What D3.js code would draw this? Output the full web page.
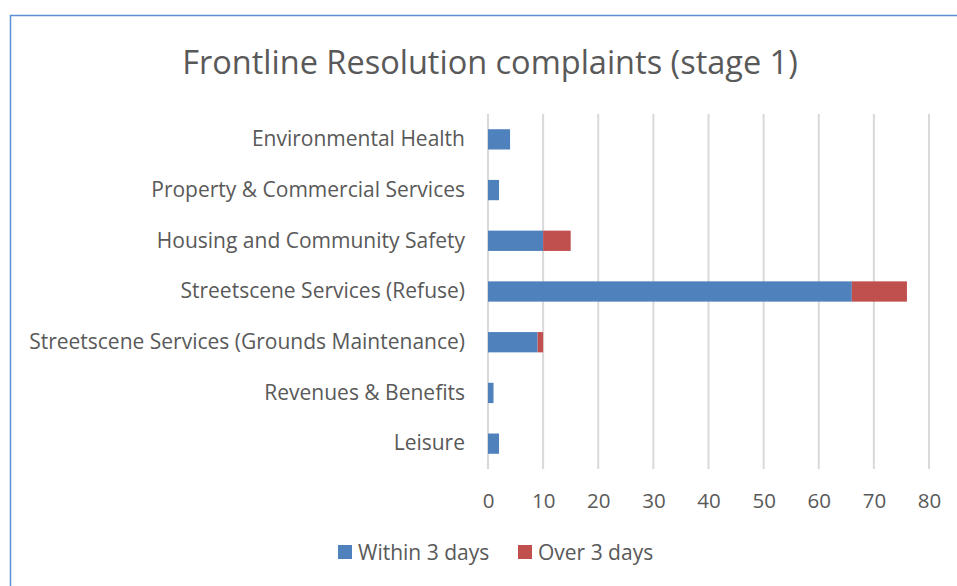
<!DOCTYPE html>
<html>
<head>
<meta charset="utf-8">
<script src="https://cdn.jsdelivr.net/npm/d3@7"></script>
<style>
  body { margin: 0; background: #fff; }
  text { font-family: "Open Sans", "Liberation Sans", sans-serif; fill: #595959; }
</style>
</head>
<body>
<script>
// chart data
var categories = ["Environmental Health", "Property & Commercial Services", "Housing and Community Safety",
  "Streetscene Services (Refuse)", "Streetscene Services (Grounds Maintenance)", "Revenues & Benefits", "Leisure"];
var within3 = [4, 2, 10, 66, 9, 1, 2];
var over3 = [0, 0, 5, 10, 1, 0, 0];
var seriesNames = ["Within 3 days", "Over 3 days"];
var xTicks = [0, 10, 20, 30, 40, 50, 60, 70, 80];
var colors = ["#4f81bd", "#c0504d"];

var width = 957, height = 586;
var svg = d3.select("body").append("svg")
  .attr("width", width)
  .attr("height", height);

// outer border (chart area frame, cut off at right & bottom)
svg.append("rect")
  .attr("x", 10.5).attr("y", 15.5)
  .attr("width", 1000).attr("height", 1000)
  .attr("fill", "none")
  .attr("stroke", "#5b8fd6")
  .attr("stroke-width", 1.5);

// title
svg.append("text")
  .attr("x", 490).attr("y", 74)
  .attr("text-anchor", "middle")
  .attr("font-size", 32.5)
  .text("Frontline Resolution complaints (stage 1)");

var x = d3.scaleLinear().domain([0, 80]).range([488, 929]);
var y = d3.scaleBand().domain(categories).range([114, 469]).paddingInner(0.6).paddingOuter(0.3);

// gridlines
svg.append("g").selectAll("line")
  .data(xTicks)
  .enter().append("line")
  .attr("x1", function(d) { return x(d); })
  .attr("x2", function(d) { return x(d); })
  .attr("y1", 114).attr("y2", 469)
  .attr("stroke", "#d9d9d9")
  .attr("stroke-width", 2);

// x axis labels
var xAxis = d3.axisBottom(x).tickValues(xTicks).tickSize(0).tickPadding(0);
var gx = svg.append("g")
  .attr("transform", "translate(0, 508)")
  .call(xAxis);
gx.select(".domain").remove();
gx.selectAll("text")
  .attr("font-size", 20.5)
  .attr("fill", "#595959")
  .attr("dy", 0);

// y axis labels
var yAxis = d3.axisLeft(y).tickSize(0).tickPadding(0);
var gy = svg.append("g")
  .attr("transform", "translate(465, 0)")
  .call(yAxis);
gy.select(".domain").remove();
gy.selectAll("text")
  .attr("font-size", 21)
  .attr("fill", "#595959");

// stacked bars
var stackData = categories.map(function(c, i) { return { cat: c, a: within3[i], b: over3[i] }; });
var stack = d3.stack().keys(["a", "b"]);
var layers = stack(stackData);

svg.append("g").selectAll("g")
  .data(layers)
  .enter().append("g")
  .attr("fill", function(d, i) { return colors[i]; })
  .selectAll("rect")
  .data(function(d) { return d; })
  .enter().append("rect")
  .attr("x", function(d) { return x(d[0]); })
  .attr("y", function(d) { return y(d.data.cat); })
  .attr("width", function(d) { return x(d[1]) - x(d[0]); })
  .attr("height", y.bandwidth());

// legend
var legend = svg.append("g");
var legendX = [338, 518];
seriesNames.forEach(function(name, i) {
  legend.append("rect")
    .attr("x", legendX[i]).attr("y", 545)
    .attr("width", 14).attr("height", 14)
    .attr("fill", colors[i]);
  legend.append("text")
    .attr("x", legendX[i] + 20).attr("y", 560)
    .attr("font-size", 21)
    .text(name);
});
</script>
</body>
</html>
